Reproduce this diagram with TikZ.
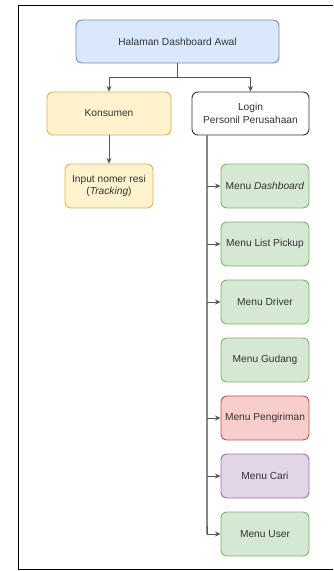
\documentclass[tikz,border=0pt]{standalone}
\usepackage{fontspec}
\setmainfont{Liberation Sans}
\usetikzlibrary{arrows.meta}
\definecolor{bluefill}{HTML}{DAE8FC}
\definecolor{blueline}{HTML}{6C8EBF}
\definecolor{yelfill}{HTML}{FFF2CC}
\definecolor{yelline}{HTML}{D6B656}
\definecolor{grnfill}{HTML}{D5E8D4}
\definecolor{grnline}{HTML}{82B366}
\definecolor{redfill}{HTML}{F8CECC}
\definecolor{redline}{HTML}{B85450}
\definecolor{purfill}{HTML}{E1D5E7}
\definecolor{purline}{HTML}{9673A6}
\definecolor{txt}{HTML}{333333}
\definecolor{conn}{HTML}{555555}
\definecolor{trunk}{HTML}{888888}
\begin{document}
\begin{tikzpicture}[x=1pt,y=-1pt,
  box/.style={draw, rounded corners=6pt, line width=0.9pt, align=center, inner sep=0pt,
    text=txt, font=\fontsize{10.2}{12.5}\selectfont},
  menubox/.style={box, fill=grnfill, draw=grnline, minimum width=88pt, minimum height=44pt},
  conline/.style={draw=conn, line width=0.9pt},
  arr/.style={conline, -{Stealth[length=5.5pt,width=5pt,fill=black!85]}}]
\useasboundingbox (0,0) rectangle (333,571);
% frame (right edge falls outside the picture)
\draw[line width=1pt] (333,5) -- (18,5) -- (18,569) -- (333,569);
% nodes
\node[box, fill=bluefill, draw=blueline, minimum width=203pt, minimum height=43pt] (top) at (177.5,41.5) {Halaman Dashboard Awal};
\node[box, fill=yelfill, draw=yelline, minimum width=124pt, minimum height=43pt] (kons) at (109,113.5) {Konsumen};
\node[box, fill=white, draw=black!80, minimum width=117pt, minimum height=43pt] (login) at (250.5,113.5) {Login\\Personil Perusahaan};
\node[box, fill=yelfill, draw=yelline, minimum width=88pt, minimum height=44pt] (input) at (109,186) {Input nomer resi\\(\textit{Tracking})};
\node[menubox] (m1) at (265,186) {Menu \textit{Dashboard}};
\node[menubox] (m2) at (265,244) {Menu List Pickup};
\node[menubox] (m3) at (265,302) {Menu Driver};
\node[menubox] (m4) at (265,360) {Menu Gudang};
\node[menubox, fill=redfill, draw=redline] (m5) at (265,418) {Menu Pengiriman};
\node[menubox, fill=purfill, draw=purline] (m6) at (265,476) {Menu Cari};
\node[menubox] (m7) at (265,534) {Menu User};
% connectors
\coordinate (split) at (177.5,77);
\draw[conline] (top.south) -- (split);
\draw[arr] (split) -| (kons.north);
\draw[arr] (split) -| (login.north);
\draw[arr] (kons.south) -- (input.north);
\coordinate (tr) at (207,135);
\draw[draw=trunk, line width=1.3pt] (tr) -- (207,534);
\foreach \m in {m1,m2,m3,m5,m6}{
  \draw[arr] (207,0 |- \m.west) -- (\m.west);
}
\draw[arr] (207,526) -- (207,534) -- (m7.west);
\end{tikzpicture}
\end{document}
